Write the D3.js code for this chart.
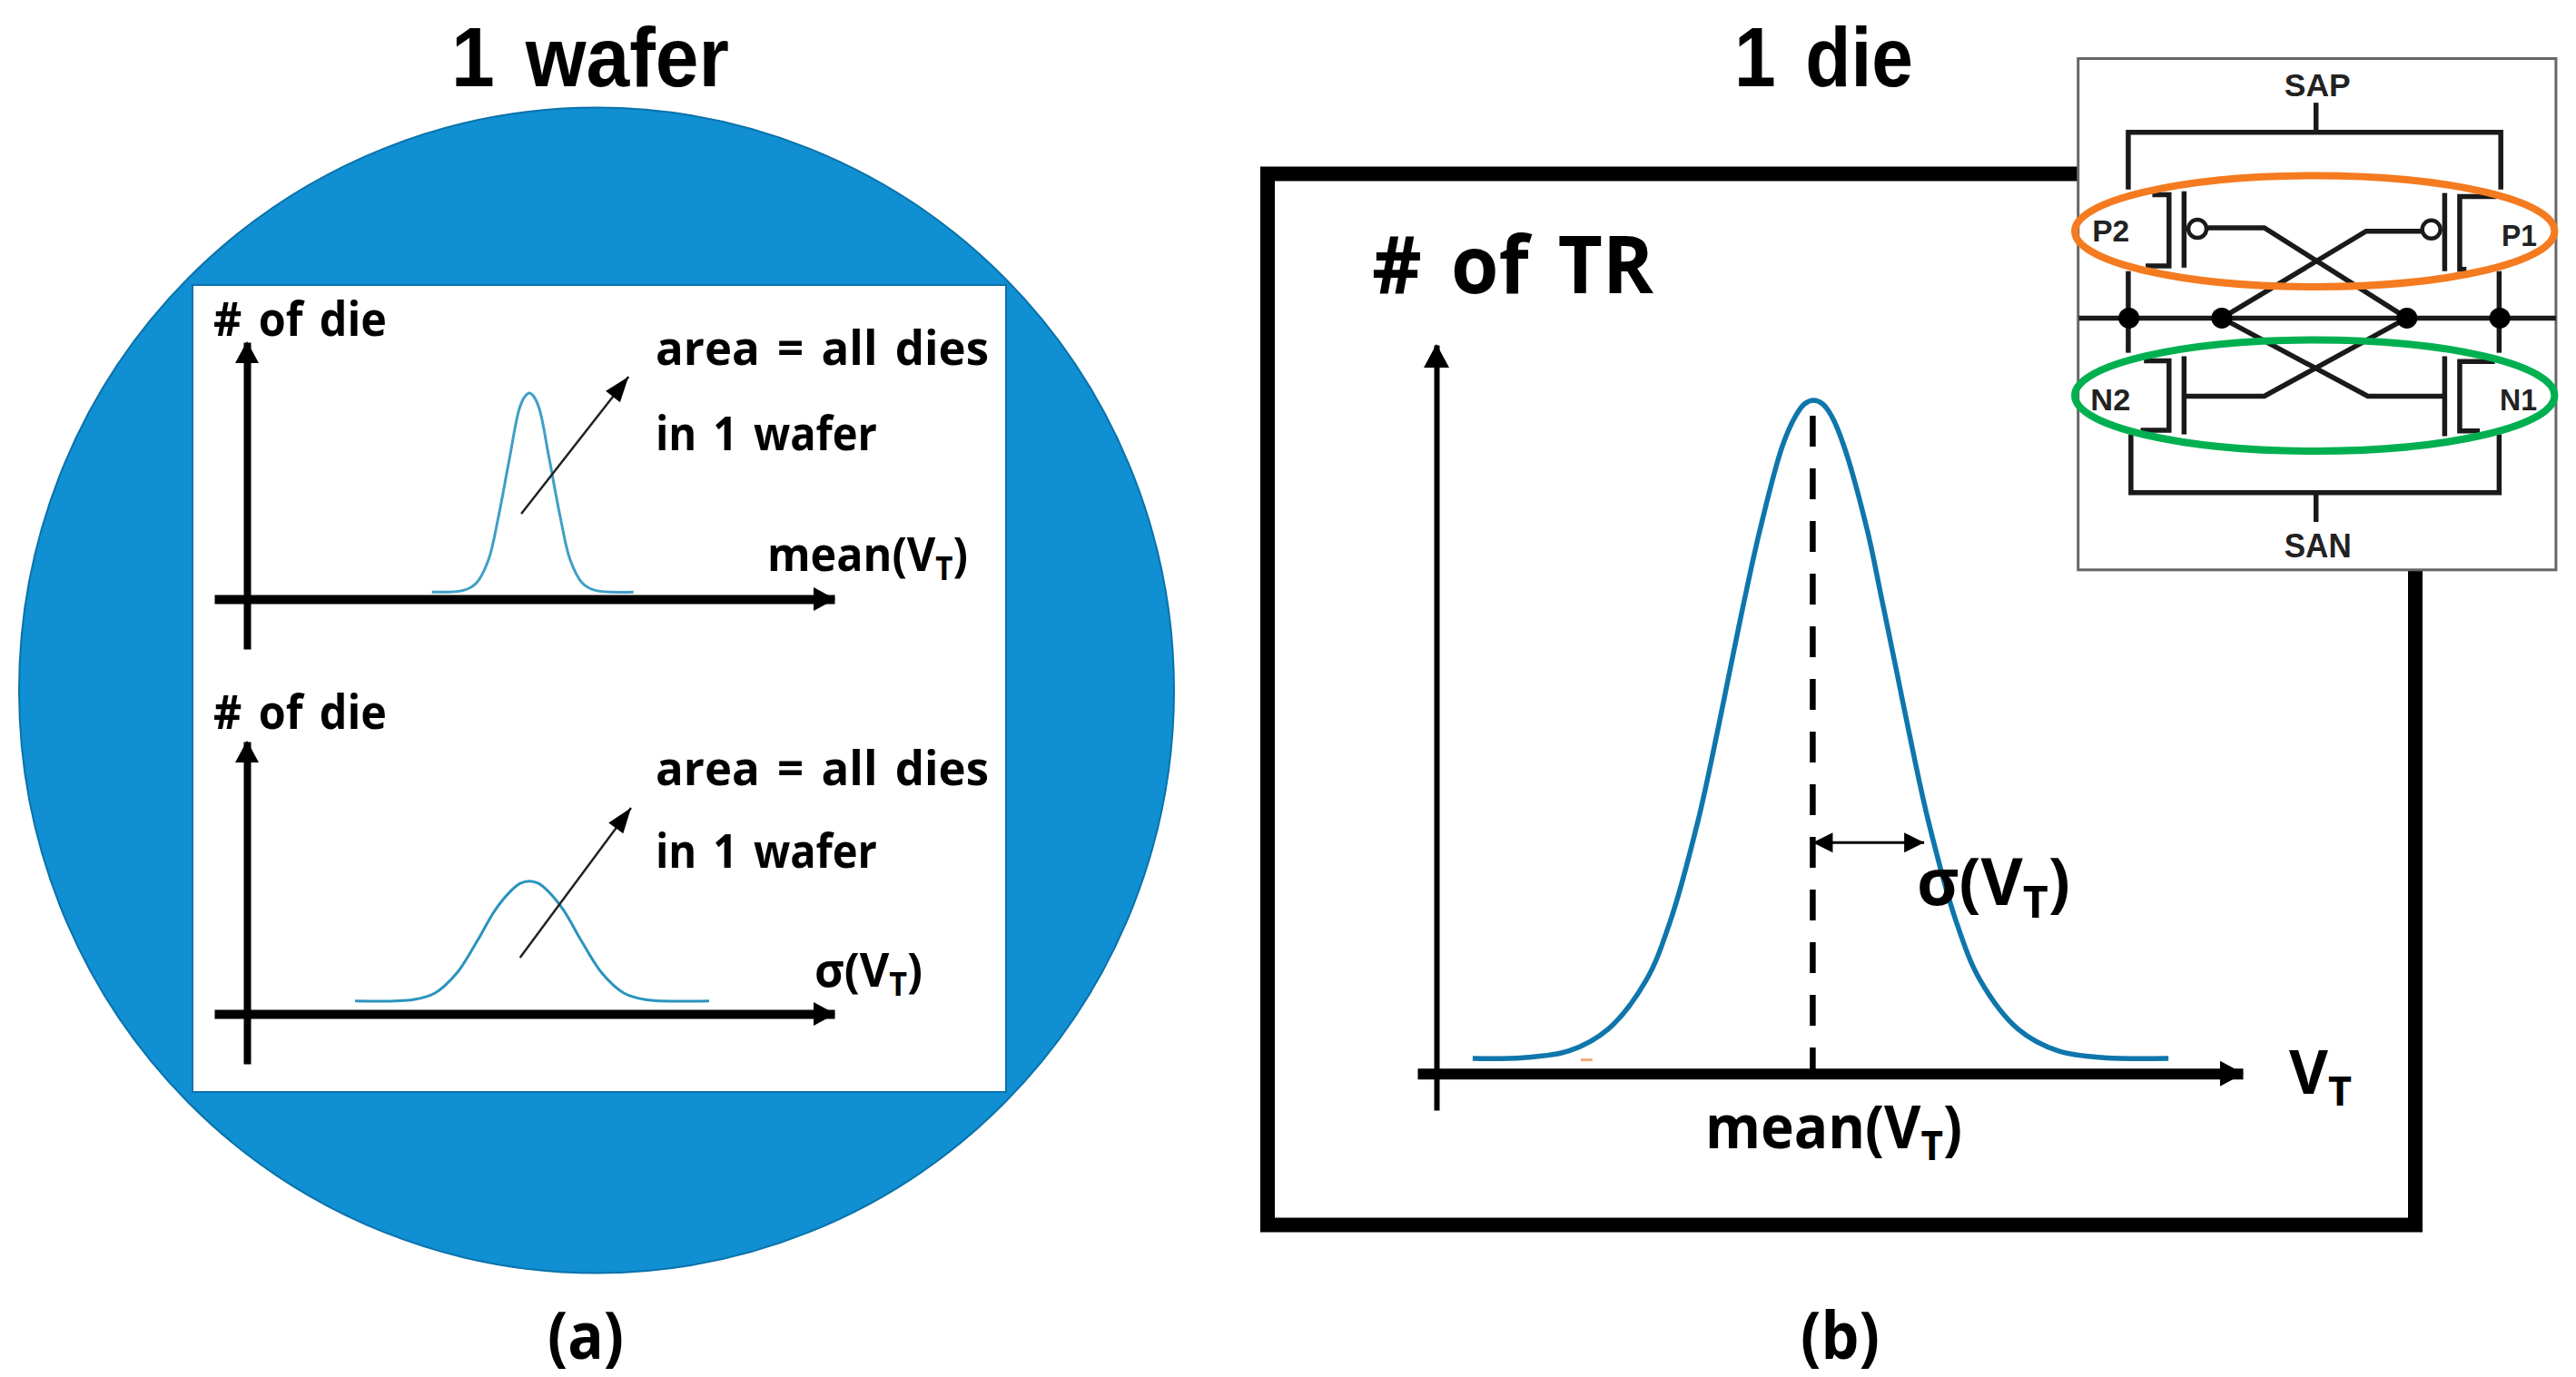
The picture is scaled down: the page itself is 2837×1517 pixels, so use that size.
<!DOCTYPE html>
<html>
<head>
<meta charset="utf-8">
<title>wafer and die distributions</title>
<script src="https://cdnjs.cloudflare.com/ajax/libs/d3/7.8.5/d3.min.js"></script>
<style>
    html, body { margin: 0; padding: 0; background: #fff; }
    svg { display: block; }
    text { fill: #000; font-family: "Open Sans", "Noto Sans", sans-serif; font-weight: 700; word-spacing: 0.12em; }
    .title { font-family: "Liberation Sans", sans-serif; font-weight: 700; }
    .circuit { font-family: "Liberation Sans", sans-serif; font-weight: 700; fill: #222; word-spacing: 0; }
</style>
</head>
<body>
<svg id="chart" width="2837" height="1517"></svg>
<script>
// values, x and y are percent of each plot's axis
var meanDieX = [35.1, 40.3, 42.3, 44.2, 45.8, 47.6, 49.2, 50.07, 50.8, 51.53, 52.4, 54.0, 55.8, 57.4, 59.3, 61.3, 67.6];
var meanDieY = [2.8, 3.5, 6.4, 15.2, 31.8, 54.8, 74.2, 78.8, 80.2, 78.8, 74.2, 54.8, 31.8, 15.2, 6.4, 3.5, 2.8];

var sigmaDieX = [22.7, 32.1, 35.6, 39.1, 42.45, 45.24, 47.87, 49.34, 50.8, 52.26, 53.73, 56.36, 59.15, 62.5, 66.03, 69.54, 79.8];
var sigmaDieY = [4.8, 5.3, 7.7, 15.0, 27.0, 38.0, 45.3, 48.0, 48.8, 48.0, 45.3, 38.0, 27.0, 15.0, 7.7, 5.3, 4.8];

var trX = [6.7, 12.8, 18.3, 23.1, 27.7, 30.6, 34.0, 36.4, 37.8, 39.6, 41.5, 44.2, 45.8, 46.9, 48.0,
    49.1, 50.2, 51.7, 54.5, 56.3, 58.1, 59.5, 61.9, 65.3, 68.2, 72.8, 77.7, 83.2, 91.0];
var trY = [2.1, 2.2, 3.1, 6.1, 12.8, 20.8, 34.7, 47.2, 55.0, 64.9, 74.6, 86.05, 90.2, 91.9, 92.4,
    91.9, 90.2, 86.05, 74.6, 64.9, 55.0, 47.2, 34.7, 20.8, 12.8, 6.1, 3.1, 2.2, 2.1];

// schematic of the inset, in its own grid units
var wires = [
    [[228, 415], [228, 250], [1343, 250], [1343, 415]],
    [[790, 165], [790, 250]],
    [[228, 650], [228, 885]],
    [[1338, 650], [1338, 885]],
    [[236, 1120], [236, 1288], [1338, 1288], [1338, 1120]],
    [[790, 1288], [790, 1372]],
    [[80, 785], [1508, 785]],
    [[300, 430], [350, 430], [350, 635], [280, 635]],
    [[395, 420], [395, 640]],
    [[1330, 435], [1220, 435], [1220, 645], [1240, 645]],
    [[1175, 425], [1175, 650]],
    [[275, 908], [350, 908], [350, 1108], [265, 1108]],
    [[395, 895], [395, 1120]],
    [[1325, 910], [1220, 910], [1220, 1110], [1280, 1110]],
    [[1175, 895], [1175, 1125]],
    [[465, 525], [635, 525], [1062, 785]],
    [[1105, 535], [940, 535], [508, 785]],
    [[400, 1010], [635, 1010], [1062, 785]],
    [[1170, 1010], [945, 1010], [508, 785]]
];
var bubbles = [[435, 528], [1135, 530]];
var junctions = [[230, 785], [508, 785], [1062, 785], [1340, 785]];
var circuitLabels = [
    { t: "SAP", x: 695, y: 147, w: 73, s: 36 },
    { t: "SAN", x: 695, y: 1475, w: 74, s: 36 },
    { t: "P2", x: 120, y: 565, w: 41, s: 34 },
    { t: "P1", x: 1345, y: 578, w: 39, s: 34 },
    { t: "N2", x: 115, y: 1050, w: 44, s: 34 },
    { t: "N1", x: 1340, y: 1050, w: 41, s: 34 }
];
var rings = [
    { cy: 535, color: "#f47b20" },
    { cy: 1008, color: "#00b050" }
];

var svg = d3.select("#chart");
var line = d3.line();

function label(x, y, parts, width, size, cls) {
    // parts: plain string, "_" marks the subscript
    var g = svg.append("g");
    var t = g.append("text").attr("font-size", size);
    if (cls) t.attr("class", cls);
    var back = 0;
    parts.split(/(_.)/).forEach(function (p) {
        if (p.charAt(0) == "_") {
            t.append("tspan").attr("font-size", size * 0.68).attr("dy", size * 0.2).text(p.substring(1));
            back = -size * 0.2;
        } else if (p.length > 0) {
            t.append("tspan").attr("dy", back).text(p);
            back = 0;
        }
    });
    var k = width / t.node().getComputedTextLength();
    g.attr("transform", "translate(" + x + "," + y + ") scale(" + k + ",1)");
}

function arrowHead(x, y, angle, len, wid) {
    svg.append("path")
        .attr("d", "M0,0L" + (-len) + "," + (-wid / 2) + "L" + (-len) + "," + (wid / 2) + "Z")
        .attr("transform", "translate(" + x + "," + y + ") rotate(" + angle + ")")
        .attr("fill", "#000");
}

function plot(conf) {
    var x = d3.scaleLinear().domain([0, 100]).range(conf.xRange);
    var y = d3.scaleLinear().domain([conf.yMin, 100]).range(conf.yRange);

    // no ticks in this figure, only the bare axis line
    var xAxis = svg.append("g").attr("transform", "translate(0," + y(0) + ")")
        .call(d3.axisBottom(x).tickValues([]).tickSizeOuter(0));
    xAxis.select(".domain").attr("stroke", "#000").attr("stroke-width", conf.xWidth);
    var yAxis = svg.append("g").attr("transform", "translate(" + x(conf.yAt) + ",0)")
        .call(d3.axisLeft(y).tickValues([]).tickSizeOuter(0));
    yAxis.select(".domain").attr("stroke", "#000").attr("stroke-width", conf.yWidth);

    arrowHead(x(100) + 1, y(0), 0, conf.head, conf.headW);
    arrowHead(x(conf.yAt), y(100) - 1, -90, conf.head, conf.headW);

    svg.append("path")
        .attr("d", d3.line().curve(d3.curveCatmullRom.alpha(0.5))
            .x(function (d) { return x(d[0]); })
            .y(function (d) { return y(d[1]); })(d3.zip(conf.xs, conf.ys)))
        .attr("fill", "none")
        .attr("stroke", conf.color)
        .attr("stroke-width", conf.curveWidth);
    return { x: x, y: y };
}

// panel (a), the wafer
svg.append("ellipse")
    .attr("cx", 657).attr("cy", 760.5).attr("rx", 636).attr("ry", 642)
    .attr("fill", "#108fd2").attr("stroke", "#0a72aa").attr("stroke-width", 2);
svg.append("rect")
    .attr("x", 212).attr("y", 314).attr("width", 896).attr("height", 889)
    .attr("fill", "#fff").attr("stroke", "#0a72aa").attr("stroke-width", 2);

var top1 = plot({
    xRange: [236, 919], yRange: [715, 377], yMin: -19.4, yAt: 5.27,
    xs: meanDieX, ys: meanDieY, color: "#3f9fc6", curveWidth: 3,
    xWidth: 10, yWidth: 8, head: 24, headW: 26
});
var top2 = plot({
    xRange: [236, 919], yRange: [1172, 817], yMin: -18.3, yAt: 5.27,
    xs: sigmaDieX, ys: sigmaDieY, color: "#2a93bd", curveWidth: 3,
    xWidth: 10, yWidth: 8, head: 24, headW: 26
});

function thinArrow(p, x1, y1, x2, y2) {
    svg.append("line")
        .attr("x1", p.x(x1)).attr("y1", p.y(y1))
        .attr("x2", p.x(x2)).attr("y2", p.y(y2))
        .attr("stroke", "#222").attr("stroke-width", 2.5);
    var a = Math.atan2(p.y(y2) - p.y(y1), p.x(x2) - p.x(x1)) * 180 / Math.PI;
    arrowHead(p.x(x2), p.y(y2), a, 28, 20);
}
thinArrow(top1, 49.5, 33.2, 66.8, 86.6);
thinArrow(top2, 49.3, 20.7, 67.2, 75.7);

label(235, 370, "# of die", 191, 52);
label(722, 402, "area = all dies", 367, 52);
label(722, 496, "in 1 wafer", 244, 52);
label(845, 629, "mean(V_T)", 221, 52);
label(235, 803, "# of die", 191, 52);
label(722, 865, "area = all dies", 367, 52);
label(722, 956, "in 1 wafer", 244, 52);
label(897, 1087, "\u03c3(V_T)", 119, 52);

label(497, 95, "1 wafer", 306, 92, "title");
label(1910, 95, "1 die", 197, 92, "title");
label(603, 1497, "(a)", 84, 72);
label(1983, 1497, "(b)", 87, 72);

// panel (b), one die
svg.append("rect")
    .attr("x", 1396).attr("y", 191.5).attr("width", 1264).attr("height", 1158)
    .attr("fill", "#fff").attr("stroke", "#000").attr("stroke-width", 16);

var die = plot({
    xRange: [1561, 2470], yRange: [1223, 380], yMin: -5, yAt: 2.31,
    xs: trX, ys: trY, color: "#0f76ab", curveWidth: 5.5,
    xWidth: 12, yWidth: 6, head: 26, headW: 28
});

svg.append("line")
    .attr("x1", die.x(47.9)).attr("x2", die.x(47.9))
    .attr("y1", die.y(90.3)).attr("y2", die.y(0))
    .attr("stroke", "#000").attr("stroke-width", 6.5)
    .attr("stroke-dasharray", "34,24");

svg.append("line")
    .attr("x1", die.x(47.9)).attr("x2", die.x(61.4))
    .attr("y1", die.y(31.7)).attr("y2", die.y(31.7))
    .attr("stroke", "#000").attr("stroke-width", 3);
arrowHead(die.x(47.9), die.y(31.7), 180, 22, 22);
arrowHead(die.x(61.4), die.y(31.7), 0, 22, 22);
svg.append("line")
    .attr("x1", die.x(19.8)).attr("x2", die.x(21.2))
    .attr("y1", die.y(1.9)).attr("y2", die.y(1.9))
    .attr("stroke", "#f2a878").attr("stroke-width", 3);

label(1511, 323, "# of TR", 310, 88);
label(2111, 997, "\u03c3(V_T)", 169, 72);
label(1878, 1265, "mean(V_T)", 283, 66);
label(2521, 1205, "V_T", 69, 66);

// inset with the latch schematic
var cx = d3.scaleLinear().domain([0, 1568]).range([2260, 2837]);
var cy = d3.scaleLinear().domain([0, 1568]).range([50, 650]);
line.x(function (d) { return cx(d[0]); }).y(function (d) { return cy(d[1]); });

svg.append("rect")
    .attr("x", cx(78)).attr("y", cy(38))
    .attr("width", cx(1508) - cx(78)).attr("height", cy(1510) - cy(38))
    .attr("fill", "#fff").attr("stroke", "#666").attr("stroke-width", 3);

svg.selectAll(".wire").data(wires).enter().append("path")
    .attr("class", "wire")
    .attr("d", line)
    .attr("fill", "none").attr("stroke", "#1a1a1a").attr("stroke-width", 5.5);

svg.selectAll(".bubble").data(bubbles).enter().append("circle")
    .attr("class", "bubble")
    .attr("cx", function (d) { return cx(d[0]); })
    .attr("cy", function (d) { return cy(d[1]); })
    .attr("r", 10)
    .attr("fill", "#fff").attr("stroke", "#1a1a1a").attr("stroke-width", 4.5);

svg.selectAll(".junction").data(junctions).enter().append("circle")
    .attr("class", "junction")
    .attr("cx", function (d) { return cx(d[0]); })
    .attr("cy", function (d) { return cy(d[1]); })
    .attr("r", 11.5)
    .attr("fill", "#000");

svg.selectAll(".ring").data(rings).enter().append("ellipse")
    .attr("class", "ring")
    .attr("cx", cx(786))
    .attr("cy", function (d) { return cy(d.cy); })
    .attr("rx", cx(1504) - cx(786))
    .attr("ry", cy(160) - cy(0))
    .attr("fill", "none")
    .attr("stroke", function (d) { return d.color; })
    .attr("stroke-width", 8);

circuitLabels.forEach(function (d) {
    label(cx(d.x), cy(d.y), d.t, d.w, d.s, "circuit");
});
</script>
</body>
</html>
